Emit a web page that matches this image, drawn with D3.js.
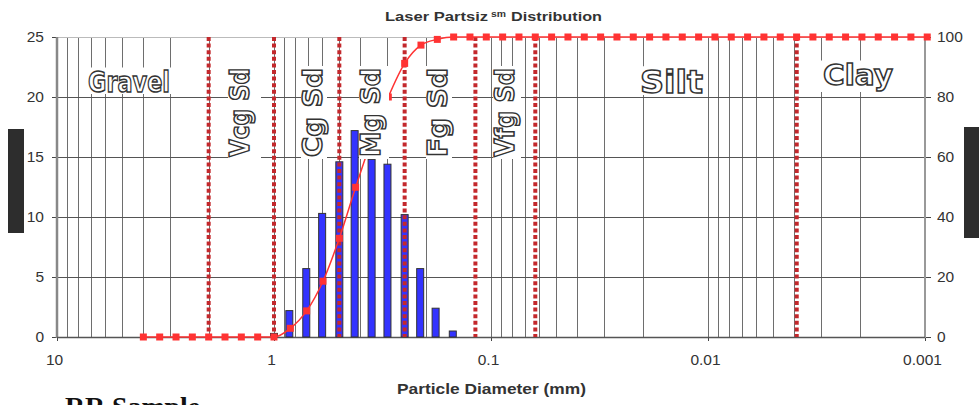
<!DOCTYPE html>
<html><head><meta charset="utf-8">
<script src="https://cdn.jsdelivr.net/npm/d3@7"></script>
<style>
html,body{margin:0;padding:0;background:#fff;overflow:hidden}
svg{display:block;font-family:Arial,"Liberation Sans",sans-serif}
</style></head><body>
<svg id="chart" width="979" height="405"></svg>
<script>
// ─── Data ──────────────────────────────────────────────────────────────────
// Sieve fractions (weight %) at US sieve openings, mm
const sieveMM  = [1.0, 0.85, 0.71, 0.6, 0.5, 0.425, 0.355, 0.3, 0.25, 0.212, 0.18, 0.15];
const sievePct = [0.3, 2.2, 5.7, 10.3, 14.6, 17.2, 14.8, 14.4, 10.2, 5.7, 2.4, 0.5];

// Cumulative % at quarter-phi steps
const cumPhi = [-2, -1.75, -1.5, -1.25, -1, -0.75, -0.5, -0.25, 0, 0.25, 0.5, 0.75,
  1, 1.25, 1.5, 1.75, 2, 2.25, 2.5, 2.75, 3, 3.25, 3.5, 3.75, 4, 4.25, 4.5, 4.75,
  5, 5.25, 5.5, 5.75, 6, 6.25, 6.5, 6.75, 7, 7.25, 7.5, 7.75, 8, 8.25, 8.5, 8.75,
  9, 9.25, 9.5, 9.75, 10];
const cumPct = [0, 0, 0, 0, 0, 0, 0, 0, 0, 2.9, 8.7, 18.6,
  32.9, 49.9, 66, 80, 91.2, 97.3, 99.2, 100, 100, 100, 100, 100, 100, 100, 100, 100,
  100, 100, 100, 100, 100, 100, 100, 100, 100, 100, 100, 100, 100, 100, 100, 100,
  100, 100, 100, 100, 100];

// Wentworth class boundaries, mm
const classBreaksMM = [2, 1, 0.5, 0.25, 0.118, 0.0625, 0.0039];

const xTicks      = [10, 1, 0.1, 0.01, 0.001];
const xTickLabels = ['10', '1', '0.1', '0.01', '0.001'];
const yLeftTicks  = [0, 5, 10, 15, 20, 25];
const yRightTicks = [0, 20, 40, 60, 80, 100];

// ─── Layout ────────────────────────────────────────────────────────────────
const L = 57, R = 925, T = 37, B = 337;
const svg = d3.select('#chart');

const x  = d3.scaleLog().domain([10, 0.001]).range([L, R]);
const yL = d3.scaleLinear().domain([0, 25]).range([B, T]);
const yR = d3.scaleLinear().domain([0, 100]).range([B, T]);

// ─── Grid ──────────────────────────────────────────────────────────────────
const minor = [];
[1, 0.1, 0.01, 0.001].forEach(p => { for (let k = 2; k <= 9; k++) minor.push(p * k); });
const grid = svg.append('g').attr('shape-rendering', 'crispEdges');
grid.selectAll('line.v').data(minor.concat(xTicks.slice(1, 4)))
  .join('line').attr('class', 'v')
  .attr('x1', d => Math.round(x(d)) + 0.5).attr('x2', d => Math.round(x(d)) + 0.5)
  .attr('y1', T).attr('y2', B)
  .attr('stroke', '#6e6e6e');
grid.selectAll('line.h').data(yLeftTicks.slice(1))
  .join('line').attr('class', 'h')
  .attr('x1', L).attr('x2', R)
  .attr('y1', d => Math.round(yL(d)) + 0.5).attr('y2', d => Math.round(yL(d)) + 0.5)
  .attr('stroke', d => d === 25 ? '#bbb' : '#555');

// ─── Axes ──────────────────────────────────────────────────────────────────
const axLeft = svg.append('g').attr('transform', `translate(${L},0)`)
  .call(d3.axisLeft(yL).tickValues(yLeftTicks).tickSize(5).tickPadding(8));
const axRight = svg.append('g').attr('transform', `translate(${R},0)`)
  .call(d3.axisRight(yR).tickValues(yRightTicks).tickSize(6).tickPadding(6));
const axBottom = svg.append('g').attr('transform', `translate(0,${B})`)
  .call(d3.axisBottom(x).tickValues(xTicks).tickFormat((d, i) => xTickLabels[i]).tickSize(4).tickPadding(13));
[axLeft, axRight, axBottom].forEach(a => {
  a.select('.domain').remove();
  a.selectAll('.tick line').attr('stroke', '#444');
  a.selectAll('text').attr('font-size', 15.5).attr('fill', '#333')
    .attr('font-family', 'Arial, "Liberation Sans", sans-serif');
});
axBottom.selectAll('text').attr('dx', -3);
svg.append('line').attr('x1', L).attr('x2', L).attr('y1', T).attr('y2', B + 1)
  .attr('stroke', '#888').attr('stroke-width', 2.5);
svg.append('line').attr('x1', R).attr('x2', R).attr('y1', T).attr('y2', B + 1)
  .attr('stroke', '#999').attr('stroke-width', 2);
svg.append('line').attr('x1', L).attr('x2', R).attr('y1', B + 0.5).attr('y2', B + 0.5)
  .attr('stroke', '#555').attr('stroke-width', 1.5);

// ─── Bars ──────────────────────────────────────────────────────────────────
const BW = 7;
svg.append('g').selectAll('rect').data(sieveMM)
  .join('rect')
  .attr('x', d => x(d) - BW / 2).attr('width', BW)
  .attr('y', (d, i) => yL(sievePct[i]))
  .attr('height', (d, i) => B - yL(sievePct[i]))
  .attr('fill', '#3333ff').attr('stroke', '#333').attr('stroke-width', 1);

// ─── Class boundaries ──────────────────────────────────────────────────────
svg.append('g').selectAll('line').data(classBreaksMM)
  .join('line')
  .attr('x1', d => x(d)).attr('x2', d => x(d))
  .attr('y1', T).attr('y2', B)
  .attr('stroke', '#c3282c').attr('stroke-width', 4).attr('stroke-dasharray', '4 2.6');

// ─── Cumulative curve ──────────────────────────────────────────────────────
const pts = cumPhi.map((p, i) => [x(Math.pow(2, -p)), yR(cumPct[i])]);
svg.append('path')
  .attr('d', d3.line().curve(d3.curveMonotoneX)(pts))
  .attr('fill', 'none').attr('stroke', '#ff3333').attr('stroke-width', 1.5);
svg.append('g').selectAll('rect').data(pts)
  .join('rect')
  .attr('x', d => d[0] - 3.5).attr('y', d => d[1] - 3.5)
  .attr('width', 7).attr('height', 7).attr('fill', '#ff3333');

// ─── Class labels (outlined WordArt style) ─────────────────────────────────
const flatLabels = [
  { t: 'Gravel', x0: 88,  x1: 170, base: 92, size: 30, desc: 2 },
  { t: 'Silt',   x0: 640, x1: 703, base: 93, size: 33, desc: 2 },
  { t: 'Clay',   x0: 823, x1: 893, base: 85, size: 30, desc: 7 }
];
const upLabels = [
  { t: 'Vcg Sd', left: 229, w: 33 },
  { t: 'Cg Sd',  left: 302, w: 26 },
  { t: 'Mg Sd',  left: 360, w: 30 },
  { t: 'Fg Sd',  left: 427, w: 26 },
  { t: 'Vfg Sd', left: 494, w: 28 }
];
const lab = svg.append('g');
function outlined(sel) {
  return sel.attr('font-family', '"DejaVu Sans", "Liberation Sans", Arial, sans-serif')
    .attr('font-weight', 'bold').attr('fill', '#fff')
    .attr('stroke', '#333').attr('stroke-width', 1.5)
    .attr('lengthAdjust', 'spacingAndGlyphs');
}
flatLabels.forEach(d => {
  lab.append('rect').attr('x', d.x0 - 2).attr('y', d.base - d.size * 0.75 - 2)
    .attr('width', d.x1 - d.x0 + 4).attr('height', d.size * 0.75 + 2 + d.desc)
    .attr('fill', '#fff');
  outlined(lab.append('text').attr('x', d.x0).attr('y', d.base)
    .attr('font-size', d.size * 0.97).attr('textLength', d.x1 - d.x0).text(d.t));
});
upLabels.forEach(d => {
  lab.append('rect').attr('x', d.left - 1).attr('y', 66)
    .attr('width', d.w).attr('height', 93).attr('fill', '#fff');
  outlined(lab.append('text')
    .attr('transform', `translate(${d.left + 20},157) rotate(-90)`)
    .attr('font-size', 27).attr('textLength', 89).text(d.t));
});

// ─── Titles ────────────────────────────────────────────────────────────────
const ttl = svg.append('g').attr('font-weight', 'bold').attr('fill', '#333');
ttl.append('text').attr('x', 385).attr('y', 21).attr('font-size', 13.5)
  .attr('textLength', 103).attr('lengthAdjust', 'spacingAndGlyphs').text('Laser Partsiz');
ttl.append('text').attr('x', 491).attr('y', 17).attr('font-size', 8.5)
  .attr('textLength', 15).attr('lengthAdjust', 'spacingAndGlyphs').text('sm');
ttl.append('text').attr('x', 511).attr('y', 21).attr('font-size', 13.5)
  .attr('textLength', 91).attr('lengthAdjust', 'spacingAndGlyphs').text('Distribution');
ttl.append('text').attr('x', 397).attr('y', 394).attr('font-size', 14.5)
  .attr('textLength', 189).attr('lengthAdjust', 'spacingAndGlyphs').text('Particle Diameter (mm)');

svg.append('text').attr('x', 65).attr('y', 416)
  .attr('font-family', '"Liberation Serif", "Times New Roman", serif')
  .attr('font-weight', 'bold').attr('font-size', 28).attr('fill', '#111')
  .attr('textLength', 135).attr('lengthAdjust', 'spacingAndGlyphs').text('RR Sample');

// Rotated axis-title placeholders rendered as solid blocks in the source
svg.append('rect').attr('x', 8).attr('y', 129).attr('width', 16).attr('height', 104).attr('fill', '#2d2d2d');
svg.append('rect').attr('x', 964).attr('y', 127).attr('width', 15).attr('height', 111).attr('fill', '#2d2d2d');
</script>
</body></html>
